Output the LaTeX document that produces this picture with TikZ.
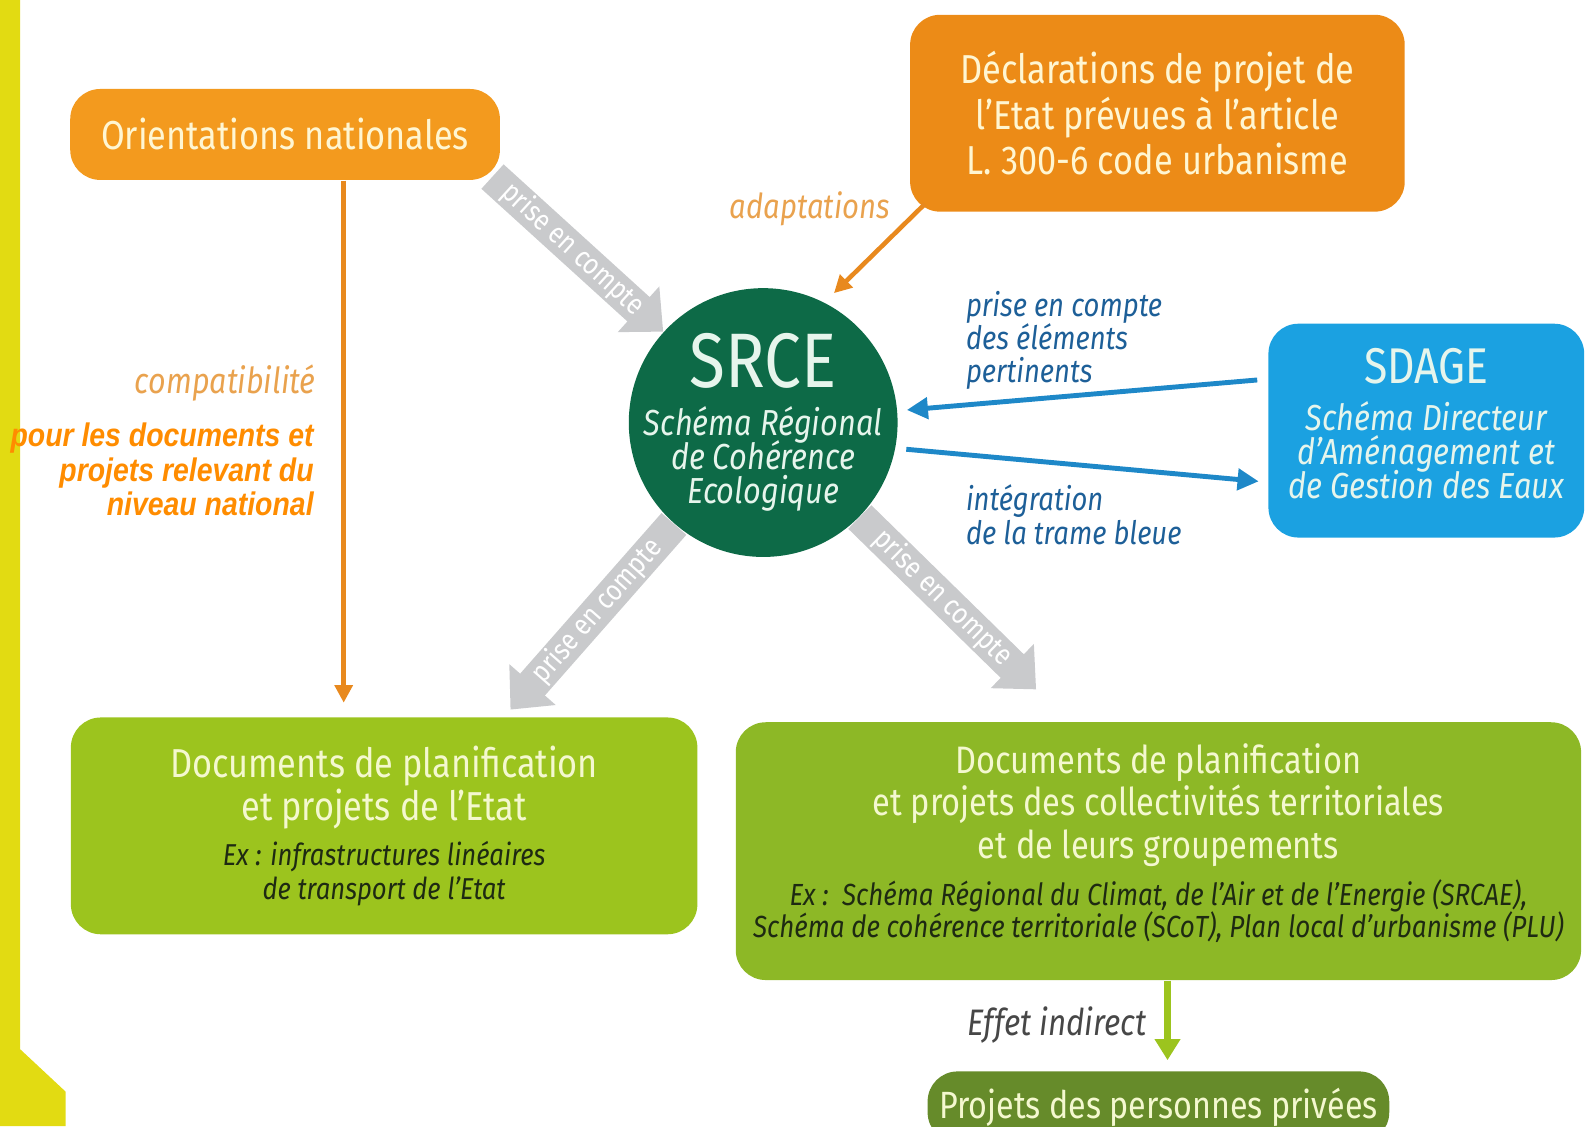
\documentclass[tikz,border=0pt]{standalone}
\usepackage{fontspec}
\setmainfont{Fira Sans}[FakeStretch=0.85]
\newfontfamily\bifont{Liberation Sans}[FakeStretch=0.87]
\usetikzlibrary{arrows.meta,calc}
\definecolor{sidebar}{HTML}{E2DB12}
\definecolor{orng}{HTML}{F39A1E}
\definecolor{orngd}{HTML}{EC8B17}
\definecolor{cream}{HTML}{FFF6D2}
\definecolor{oline}{HTML}{E8891E}
\definecolor{olabel}{HTML}{E9A24E}
\definecolor{obold}{HTML}{FF8C00}
\definecolor{grayar}{HTML}{C9CACC}
\definecolor{srceg}{HTML}{0D6A47}
\definecolor{paleg}{HTML}{E6F5EC}
\definecolor{bline}{HTML}{1E88C8}
\definecolor{btext}{HTML}{1D5F98}
\definecolor{sdageb}{HTML}{1BA1E1}
\definecolor{lgreen}{HTML}{9CC41E}
\definecolor{rgreen}{HTML}{8DB826}
\definecolor{dgreen}{HTML}{668B2A}
\definecolor{gtitle}{HTML}{F4F8CF}
\definecolor{gdark}{HTML}{1E2A12}
\newcommand{\fsz}[2]{\fontsize{#1}{#2}\selectfont\lineskiplimit=-100pt\relax}
\begin{document}
\begin{tikzpicture}[x=0.01011cm,y=-0.01011cm,
  box/.style={rounded corners=0.3cm, inner sep=0pt, align=center},
  grayarrow/.style={draw=grayar, line width=9.4pt, -{Triangle[length=9.5pt,width=17pt]}},
  graylabel/.style={sloped, pos=0.47, text=white, font=\fsz{8.3}{9}, inner sep=0pt},
  oarrow/.style={draw=oline, line width=1.3pt, -{Triangle[length=5pt,width=5pt]}},
  barrow/.style={draw=bline, line width=1.4pt, -{Triangle[length=6pt,width=6pt]}},
  garrow/.style={draw=lgreen, line width=1.8pt, -{Triangle[length=6pt,width=7pt]}},
  bluelabel/.style={text=btext, align=left, inner sep=0pt, font=\fsz{9.2}{9.5}\itshape},
]
\useasboundingbox (0,0) rectangle (1568,1114);
\clip (0,0) rectangle (1568,1114);
% yellow side bar
\fill[fill=sidebar] (0,0) -- (20,0) -- (20,1038) -- (65,1080) -- (65,1114) -- (0,1114) -- cycle;

% boxes
\node[box, fill=orng, text=cream, font=\fsz{11.5}{12.8}, minimum width=4.30cm, minimum height=0.91cm] (orient) at (282,133) {Orientations nationales};
\node[box, fill=orngd, text=cream, minimum width=4.95cm, minimum height=1.97cm,
  font=\fsz{11.5}{12.9}] (decl) at (1145,112)
  {Déclarations de projet de\\l’Etat prévues à l’article\\L. 300-6 code urbanisme};
\node[circle, fill=srceg, minimum size=2.69cm, inner sep=0pt] (srce) at (755,418) {};
\node[text=paleg, align=center, inner sep=0pt, font=\fsz{10.3}{9.7}] (srcetext) at (755,418)
  {{\fontsize{22}{22}\selectfont SRCE}\\[3.8pt]
   \itshape Schéma Régional\\\itshape de Cohérence\\\itshape Ecologique};
\node[box, fill=sdageb, minimum width=3.16cm, minimum height=2.14cm] (sdage) at (1411,426) {};
\node[text=paleg, align=center, inner sep=0pt, font=\fsz{10.3}{9.7}] (sdagetext) at (1411,419)
  {{\fontsize{14.3}{14}\selectfont SDAGE}\\[3.8pt]
   \itshape Schéma Directeur\\\itshape d’Aménagement et\\\itshape de Gestion des Eaux};
\node[box, fill=lgreen, minimum width=6.27cm, minimum height=2.17cm, font=\fsz{8.6}{9.5}] (lbox) at (380,817)
  {\textcolor{gtitle}{\fontsize{11.5}{12}\selectfont Documents de planification}\\[2.8pt]
   \textcolor{gtitle}{\fontsize{11.5}{12}\selectfont et projets de l’Etat}\\[3.4pt]
   \textcolor{gdark}{\itshape Ex : infrastructures linéaires}\\
   \textcolor{gdark}{\itshape de transport de l’Etat}};
\node[box, fill=rgreen, minimum width=8.46cm, minimum height=2.58cm, font=\fsz{8.7}{9.2}] (rbox) at (1146,842)
  {\textcolor{gtitle}{\fontsize{10.9}{12}\selectfont Documents de planification}\\[3pt]
   \textcolor{gtitle}{\fontsize{10.9}{12}\selectfont et projets des collectivités territoriales}\\[3pt]
   \textcolor{gtitle}{\fontsize{10.9}{12}\selectfont et de leurs groupements}\\[4pt]
   \textcolor{gdark}{\itshape Ex :\ \ Schéma Régional du Climat, de l’Air et de l’Energie (SRCAE),}\\
   \textcolor{gdark}{\itshape Schéma de cohérence territoriale (SCoT), Plan local d’urbanisme (PLU)}\\[-3pt]
   \mbox{}};
\node[box, fill=dgreen, text=gtitle, minimum width=4.62cm, minimum height=0.71cm,
  font=\fsz{10.8}{12}] (pbox) at (1146,1095) {Projets des personnes privées};

% labels
\node[bluelabel, anchor=north west] (lab1) at (955,287) {prise en compte\\des éléments\\pertinents};
\node[bluelabel, anchor=north west] (lab2) at (955,479) {intégration\\de la trame bleue};
\node[text=olabel, anchor=base east, inner sep=0pt, font=\fsz{10.2}{11}\itshape] (compat) at (313,389) {compatibilité};
\node[text=obold, anchor=north east, align=right, inner sep=0pt,
  font=\bifont\bfseries\itshape\fsz{9.3}{9.8}] (natl) at (311,418)
  {pour les documents et\\projets relevant du\\niveau national};
\node[text=olabel, anchor=base, inner sep=0pt, font=\fsz{9.8}{10}\itshape] (adapt) at (801,216) {adaptations};
\node[text=black!72, anchor=base, inner sep=0pt, font=\fsz{10.5}{11}\itshape] (effet) at (1046,1024) {Effet indirect};

% coordinates for free arrow ends
\coordinate (t2) at (505,702);
\coordinate (t3) at (1025,682);
\coordinate (adtip) at (825,290);

% gray arrows
\draw[grayarrow] ($(orient.south east)+(-8,-4)$) -- (srce) node[graylabel] {prise en compte};
\draw[grayarrow] (srce) -- (t2) node[graylabel] {prise en compte};
\draw[grayarrow] (srce) -- (t3) node[graylabel] {prise en compte};

% orange arrows
\draw[oarrow, shorten >=4pt] (orient.south -| 340,0) -- (lbox.north -| 340,0);
\draw[oarrow] ($(decl.south west)+(15,-8)$) -- (adtip);

% blue arrows
\draw[barrow, shorten <=3pt, shorten >=2.6pt] (sdage.west |- 0,375) -- (srce.5);
\draw[barrow, shorten <=3pt, shorten >=2.6pt] (srce.-11) -- (sdage.west |- 0,477);

% green arrow
\draw[garrow, shorten >=3pt] (rbox.south -| 1155,0) -- (pbox.north -| 1155,0);
\end{tikzpicture}
\end{document}
